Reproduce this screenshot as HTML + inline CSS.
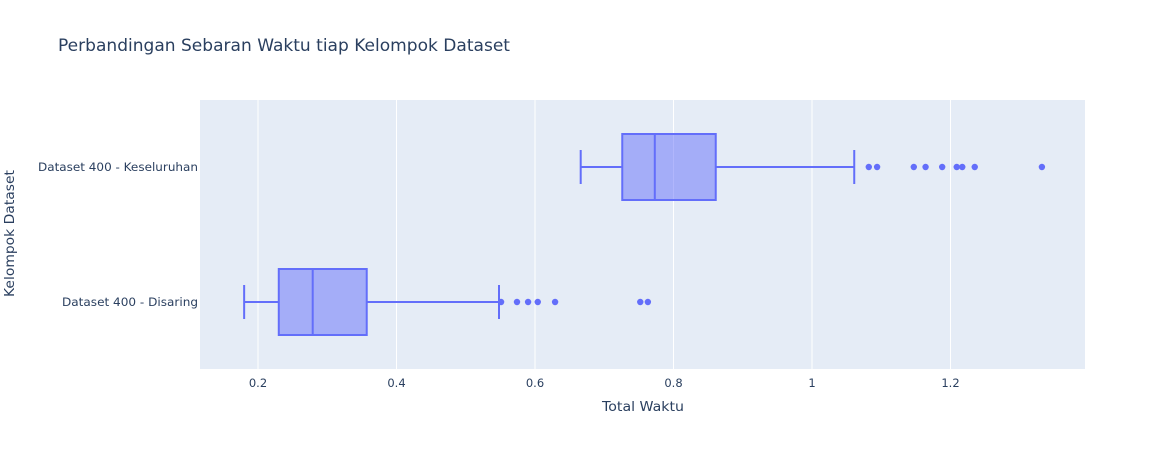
<!DOCTYPE html>
<html><head><meta charset="utf-8">
<style>
body{margin:0;background:#fff;font-family:"DejaVu Sans",sans-serif;}
svg text{font-family:"DejaVu Sans",sans-serif;}
</style></head>
<body>
<svg id="chart" width="1166" height="450" xmlns="http://www.w3.org/2000/svg">
<rect width="1166" height="450" fill="#fff"/>
<text x="58" y="51" font-size="16.5" fill="#2a3f5f" textLength="452" lengthAdjust="spacingAndGlyphs">Perbandingan Sebaran Waktu tiap Kelompok Dataset</text>
<rect x="200" y="100" width="885" height="269" fill="#e5ecf6"/>
<g id="grid"></g>
<g id="boxes"></g>
<g id="ticks"></g>
<text x="602" y="411" font-size="13.5" fill="#2a3f5f" textLength="82" lengthAdjust="spacingAndGlyphs">Total Waktu</text>
<text transform="translate(14,297) rotate(-90)" font-size="13.5" fill="#2a3f5f" textLength="127" lengthAdjust="spacingAndGlyphs">Kelompok Dataset</text>
</svg>
<script>
const categories = ["Dataset 400 - Disaring", "Dataset 400 - Keseluruhan"];
const lowerWhisker = [0.180, 0.666];
const q1Values = [0.230, 0.726];
const medianValues = [0.279, 0.773];
const q3Values = [0.357, 0.861];
const upperWhisker = [0.548, 1.061];
const outliersDisaring = [0.551, 0.574, 0.590, 0.604, 0.629, 0.752, 0.763];
const outliersKeseluruhan = [1.082, 1.094, 1.147, 1.164, 1.188, 1.209, 1.217, 1.235, 1.332];
const xTicks = [0.2, 0.4, 0.6, 0.8, 1, 1.2];
const xTickLabels = ["0.2", "0.4", "0.6", "0.8", "1", "1.2"];
const labelWidths = [136, 160];

const NS = "http://www.w3.org/2000/svg";
const xs = v => 258 + (v - 0.2) * 692.5;
const ys = i => 302 - i * 135;
function mk(tag, attrs, parent){const e=document.createElementNS(NS,tag);for(const k in attrs)e.setAttribute(k,attrs[k]);parent.appendChild(e);return e;}
const grid=document.getElementById('grid'), boxes=document.getElementById('boxes'), ticks=document.getElementById('ticks');
xTicks.forEach((t,i)=>{
  const l=mk('line',{x1:xs(t),x2:xs(t),y1:100,y2:369,stroke:'#fff','stroke-width':1},grid);
  
  
  const tx=mk('text',{x:xs(t),y:387,'font-size':11.5,fill:'#2a3f5f','text-anchor':'middle'},ticks);
  tx.textContent=xTickLabels[i];
  
  
});
const outl=[outliersDisaring,outliersKeseluruhan];
categories.forEach((c,i)=>{
  const y=ys(i), c1='#636efa';
  const g=mk('g',{},boxes);
  
  
  mk('line',{x1:xs(lowerWhisker[i]),x2:xs(q1Values[i]),y1:y,y2:y,stroke:c1,'stroke-width':2},g);
  mk('line',{x1:xs(q3Values[i]),x2:xs(upperWhisker[i]),y1:y,y2:y,stroke:c1,'stroke-width':2},g);
  mk('line',{x1:xs(lowerWhisker[i]),x2:xs(lowerWhisker[i]),y1:y-17,y2:y+17,stroke:c1,'stroke-width':2},g);
  mk('line',{x1:xs(upperWhisker[i]),x2:xs(upperWhisker[i]),y1:y-17,y2:y+17,stroke:c1,'stroke-width':2},g);
  mk('rect',{x:xs(q1Values[i]),y:y-33,width:xs(q3Values[i])-xs(q1Values[i]),height:66,fill:'rgba(99,110,250,0.5)',stroke:c1,'stroke-width':2},g);
  mk('line',{x1:xs(medianValues[i]),x2:xs(medianValues[i]),y1:y-33,y2:y+33,stroke:c1,'stroke-width':2},g);
  outl[i].forEach(v=>{
    const p=mk('circle',{cx:xs(v),cy:y,r:3.2,fill:c1},boxes);
    
    
  });
  const lab=mk('text',{x:198-labelWidths[i],y:y+4,'font-size':11.5,fill:'#2a3f5f',textLength:labelWidths[i],lengthAdjust:'spacingAndGlyphs'},ticks);
  lab.textContent=c;
  
  
});
</script>
</body></html>
